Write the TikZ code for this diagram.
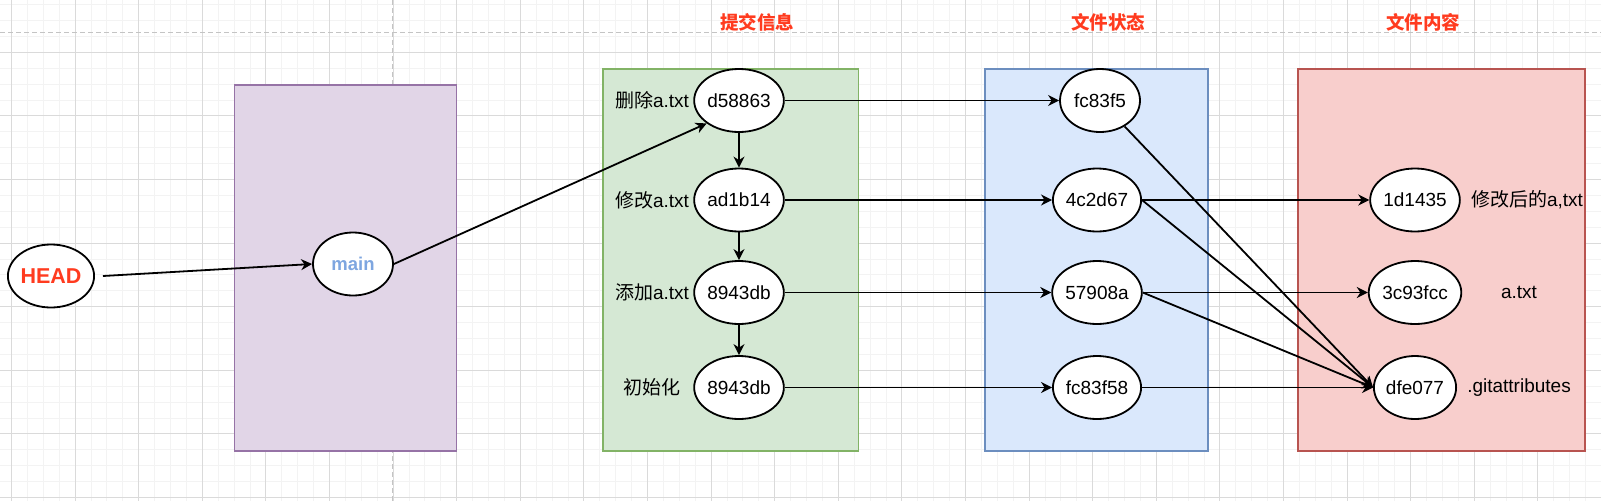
\documentclass[tikz,border=0pt]{standalone}
\usepackage{fontspec}
\setmainfont{Liberation Sans}
\newfontfamily\cjk{Noto Sans CJK SC}
\usetikzlibrary{shapes.geometric,arrows.meta}

\definecolor{titleRed}{HTML}{FF3B1F}
\definecolor{mainBlue}{HTML}{7EA6E0}
\definecolor{purpleFill}{HTML}{E1D5E7}
\definecolor{purpleLine}{HTML}{9673A6}
\definecolor{greenFill}{HTML}{D5E8D4}
\definecolor{greenLine}{HTML}{82B366}
\definecolor{blueFill}{HTML}{DAE8FC}
\definecolor{blueLine}{HTML}{6C8EBF}
\definecolor{redFill}{HTML}{F8CECC}
\definecolor{redLine}{HTML}{B85450}
\definecolor{gridMinor}{HTML}{F3F3F3}
\definecolor{gridMajor}{HTML}{DADADA}
\definecolor{guideGray}{HTML}{C4C4C4}

\begin{document}
\begin{tikzpicture}[x=1pt,y=-1pt]
  % Styling
  \tikzset{
    hashNode/.style={
      ellipse,
      draw=black,
      fill=white,
      line width=1.8pt,
      minimum width=80pt,
      minimum height=63pt,
      inner sep=0pt,
      font=\fontsize{19}{23}\selectfont
    },
    arrow/.style={
      -{Stealth[length=11pt,width=11pt,inset=3.5pt]},
      line width=1.8pt,
      black
    },
    textLabel/.style={
      inner sep=0pt,
      font=\fontsize{19}{23}\selectfont,
      black
    },
    sectionTitle/.style={
      inner sep=0pt,
      font=\cjk\bfseries\fontsize{18.5}{22}\selectfont,
      titleRed
    },
    groupBox/.style={
      rectangle,
      line width=1.5pt,
      inner sep=0pt
    },
    minorGrid/.style={gridMinor, line width=1pt},
    majorGrid/.style={gridMajor, line width=1pt},
    guide/.style={guideGray, line width=1.5pt, dash pattern=on 4.5pt off 3.5pt}
  }
  \useasboundingbox (0,0) rectangle (1601,501);

  % ===== Background grid =====
  \foreach \i in {0,...,101}
    \draw[minorGrid] ({-4.4+\i*15.9},0) -- ({-4.4+\i*15.9},501);
  \foreach \j in {0,...,33}
    \draw[minorGrid] (0,{-11.3+\j*15.9}) -- (1601,{-11.3+\j*15.9});
  \foreach \i in {0,...,25}
    \draw[majorGrid] ({11.5+\i*63.6},0) -- ({11.5+\i*63.6},501);
  \foreach \j in {0,...,8}
    \draw[majorGrid] (0,{-11.3+\j*63.6}) -- (1601,{-11.3+\j*63.6});

  % Guide lines
  \draw[guide] (0,32.7) -- (1601,32.7);
  \draw[guide] (392.7,0) -- (392.7,501);

  % ===== Group boxes =====
  \node[groupBox, fill=purpleFill, draw=purpleLine, minimum width=222pt, minimum height=366pt] (branchBox) at (345.5,268) {};
  \node[groupBox, fill=greenFill, draw=greenLine, minimum width=255.5pt, minimum height=382pt] (commitBox) at (730.75,260) {};
  \node[groupBox, fill=blueFill, draw=blueLine, minimum width=223pt, minimum height=382pt] (treeBox) at (1096.5,260) {};
  \node[groupBox, fill=redFill, draw=redLine, minimum width=287pt, minimum height=382pt] (blobBox) at (1441.5,260) {};

  % Titles
  \node[sectionTitle] (commitTitle) at (757,22) {提交信息};
  \node[sectionTitle] (treeTitle) at (1108,22) {文件状态};
  \node[sectionTitle] (blobTitle) at (1423,22) {文件内容};

  % ===== HEAD and branch =====
  \node[hashNode, text=titleRed, font=\bfseries\fontsize{21.5}{25}\selectfont] (head) at (51,276) {HEAD};
  \node[hashNode, text=mainBlue, font=\bfseries\fontsize{18.5}{22}\selectfont] (main) at (353,264) {main};

  % ===== Commits =====
  \node[hashNode] (c1) at (739,100.5) {d58863};
  \node[hashNode] (c2) at (739,200) {ad1b14};
  \node[hashNode] (c3) at (739,292.5) {8943db};
  \node[hashNode] (c4) at (739,387.5) {8943db};

  % Commit messages
  \node[textLabel] (msg1) at (652,100.5) {{\cjk 删除}a.txt};
  \node[textLabel] (msg2) at (652,200) {{\cjk 修改}a.txt};
  \node[textLabel] (msg3) at (652,292.5) {{\cjk 添加}a.txt};
  \node[textLabel] (msg4) at (652,387.5) {\cjk 初始化};

  % ===== Trees =====
  \node[hashNode] (t1) at (1100,100.5) {fc83f5};
  \node[hashNode] (t2) at (1097,200) {4c2d67};
  \node[hashNode] (t3) at (1097,292.5) {57908a};
  \node[hashNode] (t4) at (1097,387.5) {fc83f58};

  % ===== Blobs =====
  \node[hashNode] (b1) at (1415,200) {1d1435};
  \node[hashNode] (b2) at (1415,292.5) {3c93fcc};
  \node[hashNode] (b3) at (1415,387.5) {dfe077};

  % File names
  \node[textLabel] (file1) at (1527,200) {{\cjk 修改后的}a,txt};
  \node[textLabel] (file2) at (1519,292.5) {a.txt};
  \node[textLabel] (file3) at (1519,387.5) {.gitattributes};

  % ===== Arrows =====
  \draw[arrow] ([xshift=8pt]head.east) -- (main.west);
  \draw[arrow] (main.east) -- (c1.south west);

  \draw[arrow] (c1) -- (c2);
  \draw[arrow] (c2) -- (c3);
  \draw[arrow] (c3) -- (c4);

  \draw[arrow] (c1) -- (t1);
  \draw[arrow] (c2) -- (t2);
  \draw[arrow] (c3) -- (t3);
  \draw[arrow] (c4) -- (t4);

  \draw[arrow] (t2) -- (b1);
  \draw[arrow] (t3) -- (b2);
  \draw[arrow] (t4) -- (b3);
  \draw[arrow] (t1) -- (b3.west);
  \draw[arrow] (t2.east) -- (b3.west);
  \draw[arrow] (t3.east) -- (b3.west);

\end{tikzpicture}
\end{document}
